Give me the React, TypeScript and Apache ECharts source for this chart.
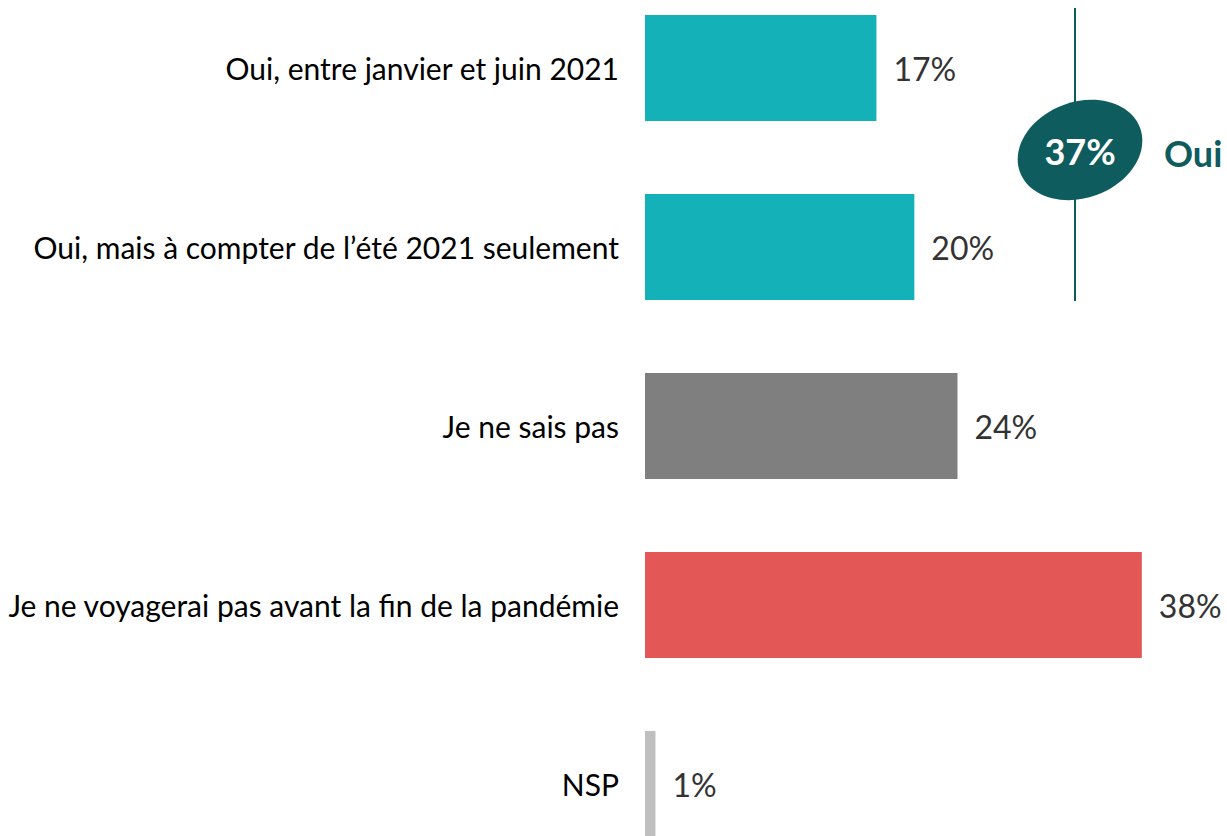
import React, { useEffect, useRef } from "react";
import * as echarts from "echarts";

const categories = [
  "Oui, entre janvier et juin 2021",
  "Oui, mais à compter de l’été 2021 seulement",
  "Je ne sais pas",
  "Je ne voyagerai pas avant la fin de la pandémie",
  "NSP",
];
const values = [17.7, 20.6, 23.9, 38.0, 0.8];
const valueLabels = ["17%", "20%", "24%", "38%", "1%"];
const barColors = ["#14B1B8", "#14B1B8", "#7F7F7F", "#E35757", "#BFBFBF"];
const groupTotal = "37%";
const groupName = "Oui";

const OFFSET = 22;

export default function App() {
  const ref = useRef<HTMLDivElement>(null);
  useEffect(() => {
    if (!ref.current) return;
    const chart = echarts.init(ref.current, null, { renderer: "svg" });
    const dark = "#0E5C5D";
    chart.setOption({
      animation: false,
      grid: { left: 645, top: 0.5, height: 895, width: 523, containLabel: false },
      xAxis: {
        type: "value",
        min: 0,
        max: 40,
        show: false,
      },
      yAxis: {
        type: "category",
        inverse: true,
        data: categories,
        axisLine: { show: false },
        axisTick: { show: false },
        splitLine: { show: false },
        axisLabel: {
          margin: 26,
          fontSize: 30,
          fontFamily: "Lato",
          color: "#000000",
        },
      },
      series: [
        {
          type: "bar",
          barWidth: 106,
          data: values.map((v, i) => ({ value: v, itemStyle: { color: barColors[i] } })),
          label: {
            show: true,
            position: "right",
            distance: 17,
            fontSize: 32,
            fontFamily: "Lato",
            color: "#333333",
            formatter: (p: any) => valueLabels[p.dataIndex],
          },
        },
      ],
      graphic: [
        {
          type: "line",
          shape: { x1: 1075, y1: 8 + OFFSET, x2: 1075, y2: 301 + OFFSET },
          style: { stroke: dark, lineWidth: 2 },
          z: 10,
        },
        {
          type: "ellipse",
          x: 1080,
          y: 150 + OFFSET,
          rotation: 0.35,
          shape: { cx: 0, cy: 0, rx: 64, ry: 48 },
          style: { fill: dark },
          z: 11,
        },
        {
          type: "text",
          x: 1080,
          y: 151 + OFFSET,
          style: {
            text: groupTotal,
            fill: "#FFFFFF",
            fontSize: 36,
            fontWeight: "bold",
            fontFamily: "Lato",
            align: "center",
            verticalAlign: "middle",
          },
          z: 12,
        },
        {
          type: "text",
          x: 1164,
          y: 153 + OFFSET,
          style: {
            text: groupName,
            fill: dark,
            fontSize: 36,
            fontWeight: "bold",
            fontFamily: "Lato",
            align: "left",
            verticalAlign: "middle",
          },
          z: 12,
        },
      ],
    });
    return () => chart.dispose();
  }, []);
  return (
    <div
      style={{
        position: "fixed",
        left: 0,
        top: 0,
        width: 1227,
        height: 836,
        overflow: "hidden",
        background: "#fff",
      }}
    >
      <div
        ref={ref}
        style={{ position: "absolute", left: 0, top: -OFFSET, width: 1227, height: 900 }}
      />
    </div>
  );
}
